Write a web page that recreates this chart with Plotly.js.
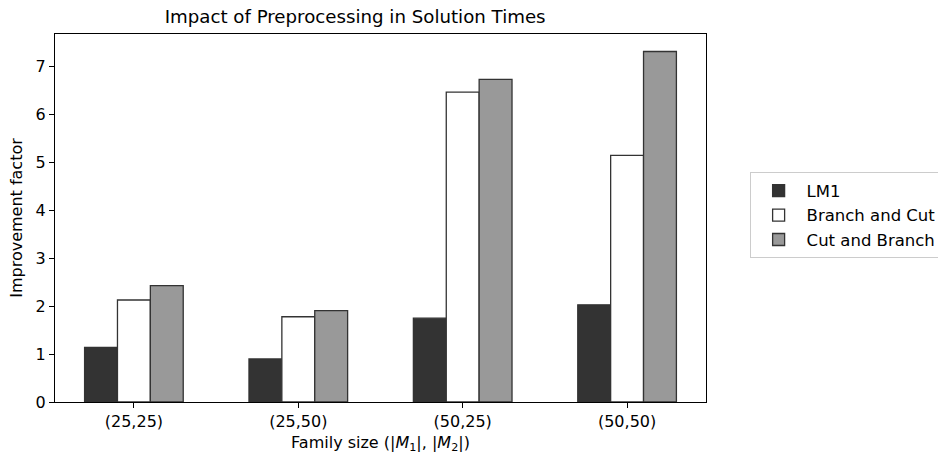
<!DOCTYPE html>
<html>
<head>
<meta charset="utf-8">
<script src="https://cdn.plot.ly/plotly-3.0.1.min.js"></script>
<style>html,body{margin:0;padding:0;background:#fff;overflow:hidden;}#chart{width:938px;height:455px;}</style>
</head>
<body>
<div id="chart"></div>
<script>
const categories = ["(25,25)", "(25,50)", "(50,25)", "(50,50)"];
const lm1 = [1.14, 0.90, 1.75, 2.03];
const branchAndCut = [2.13, 1.78, 6.47, 5.15];
const cutAndBranch = [2.43, 1.91, 6.74, 7.32];
const seriesNames = ["LM1", "Branch and Cut", "Cut and Branch"];
const yTicks = [0, 1, 2, 3, 4, 5, 6, 7];

const font = "DejaVu Sans, sans-serif";
const edge = {color: "#333333", width: 1.3};
const traces = [
  {type: "bar", name: seriesNames[0], x: categories, y: lm1, marker: {color: "#333333", line: edge}},
  {type: "bar", name: seriesNames[1], x: categories, y: branchAndCut, marker: {color: "#ffffff", line: edge}},
  {type: "bar", name: seriesNames[2], x: categories, y: cutAndBranch, marker: {color: "#999999", line: edge}}
];
const layout = {
  width: 938, height: 455,
  margin: {l: 55, r: 232, t: 34, b: 53, autoexpand: false},
  paper_bgcolor: "#fff", plot_bgcolor: "#fff",
  font: {family: font, size: 16, color: "#000"},
  barmode: "group", bargap: 0.4, bargroupgap: 0,
  title: {text: "Impact of Preprocessing in Solution Times", font: {family: font, size: 18.2, color: "#000"},
          x: 0.461, xref: "paper", xanchor: "center", y: 1 - 17/455, yref: "container", yanchor: "middle"},
  xaxis: {type: "category", range: [-0.48, 3.48], showgrid: false, zeroline: false,
          showline: true, mirror: true, linecolor: "#000", linewidth: 1.2,
          ticks: "outside", ticklen: 5, tickwidth: 1, tickcolor: "#000",
          tickfont: {family: font, size: 16},
          title: {text: "Family size (|<i>M</i><sub>1</sub>|, |<i>M</i><sub>2</sub>|)", font: {family: font, size: 16}, standoff: 6}},
  yaxis: {range: [0, 7.686], tickvals: yTicks, showgrid: false, zeroline: false,
          showline: true, mirror: true, linecolor: "#000", linewidth: 1.2,
          ticks: "outside", ticklen: 5, tickwidth: 1, tickcolor: "#000",
          tickfont: {family: font, size: 16},
          title: {text: "Improvement factor", font: {family: font, size: 16}, standoff: 8}},
  legend: {x: 1.067, xanchor: "left", y: 0.624, yanchor: "top",
           bordercolor: "#cccccc", borderwidth: 1, bgcolor: "#fff",
           font: {family: font, size: 16.5}, tracegroupgap: 0, itemwidth: 46},
  showlegend: true
};
Plotly.newPlot("chart", traces, layout, {staticPlot: true, displayModeBar: false});
</script>
</body>
</html>
